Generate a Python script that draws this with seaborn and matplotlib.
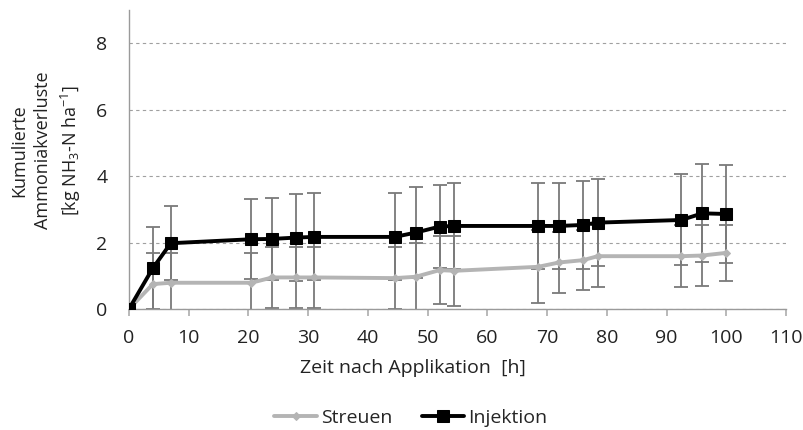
import numpy as np
import pandas as pd
import seaborn as sns
import matplotlib.pyplot as plt

# Zeit nach Applikation [h]
zeit = [0, 4, 7, 20.5, 24, 28, 31, 44.5, 48, 52, 54.5, 68.5, 72, 76, 78.5, 92.5, 96, 100]

# kumulierte Verluste (Mittelwerte) und Standardabweichungen
streuen = [0, 0.75, 0.79, 0.79, 0.95, 0.95, 0.95, 0.93, 0.97, 1.17, 1.15, 1.27, 1.40, 1.47, 1.59, 1.59, 1.61, 1.69]
streuen_sd = [0, 0.95, 0.90, 0.91, 0.92, 0.92, 0.92, 0.94, 1.03, 1.03, 1.05, 1.10, 0.93, 0.90, 0.94, 0.94, 0.92, 0.84]
injektion = [0, 1.23, 1.98, 2.10, 2.11, 2.15, 2.17, 2.17, 2.30, 2.48, 2.50, 2.50, 2.50, 2.53, 2.60, 2.68, 2.88, 2.86]
injektion_sd = [0, 1.24, 1.12, 1.20, 1.24, 1.30, 1.31, 1.31, 1.38, 1.25, 1.30, 1.30, 1.30, 1.33, 1.31, 1.37, 1.47, 1.47]

df = pd.DataFrame({
    'Zeit': zeit * 2,
    'Wert': streuen + injektion,
    'sd': streuen_sd + injektion_sd,
    'Variante': ['Streuen'] * len(zeit) + ['Injektion'] * len(zeit),
})

sns.set_theme(style='white')
plt.rcParams['font.family'] = ['Open Sans', 'DejaVu Sans']
plt.rcParams['mathtext.default'] = 'regular'

fig = plt.figure(figsize=(8.04, 4.30), dpi=100)
ax = fig.add_axes([0.1604, 0.2814, 0.8172, 0.6953])

colors = {'Streuen': '#b4b4b4', 'Injektion': '#000000'}
markers = {'Streuen': 'D', 'Injektion': 's'}
sizes = {'Streuen': 4, 'Injektion': 8}

# error bars first so the lines sit on top
for name in ['Streuen', 'Injektion']:
    d = df[df['Variante'] == name]
    ax.errorbar(d['Zeit'], d['Wert'], yerr=d['sd'], fmt='none',
                ecolor='#7a7a7a', elinewidth=1.3, capsize=5, capthick=1.3, zorder=2)

for name in ['Streuen', 'Injektion']:
    d = df[df['Variante'] == name]
    sns.lineplot(data=d, x='Zeit', y='Wert', ax=ax, color=colors[name],
                 marker=markers[name], markersize=sizes[name], markeredgecolor=colors[name],
                 linewidth=2.8, label=name, zorder=3)

ax.set_xlim(0, 110)
ax.set_ylim(0, 9)
ax.set_xticks(range(0, 111, 10))
ax.set_yticks([0, 2, 4, 6, 8])
ax.yaxis.grid(True, linestyle=(0, (3, 3)), color='#a0a0a0', linewidth=0.8)
ax.xaxis.grid(False)

for s in ['top', 'right']:
    ax.spines[s].set_visible(False)
for s in ['left', 'bottom']:
    ax.spines[s].set_color('#9a9a9a')
    ax.spines[s].set_linewidth(1.0)

ax.tick_params(axis='x', bottom=True, length=5, color='#b0b0b0', labelsize=14,
               labelcolor='#222222', pad=9.5)
ax.tick_params(axis='y', left=False, labelsize=14, labelcolor='#222222', pad=9.5)

ax.set_xlabel('Zeit nach Applikation  [h]', fontsize=14, color='#222222')
ax.xaxis.set_label_coords(0.432, -0.168)
ax.set_ylabel('Kumulierte\nAmmoniakverluste\n[kg NH$_3$-N ha$^{-1}$]', fontsize=13,
              color='#222222', linespacing=1.4)
ax.yaxis.set_label_coords(-0.07, 0.53)

ax.legend(loc='center', bbox_to_anchor=(0.429, -0.365), ncol=2, frameon=False,
          fontsize=14, handlelength=2.2, columnspacing=1.5, handletextpad=0.2)

fig.savefig('out.png', dpi=100)
